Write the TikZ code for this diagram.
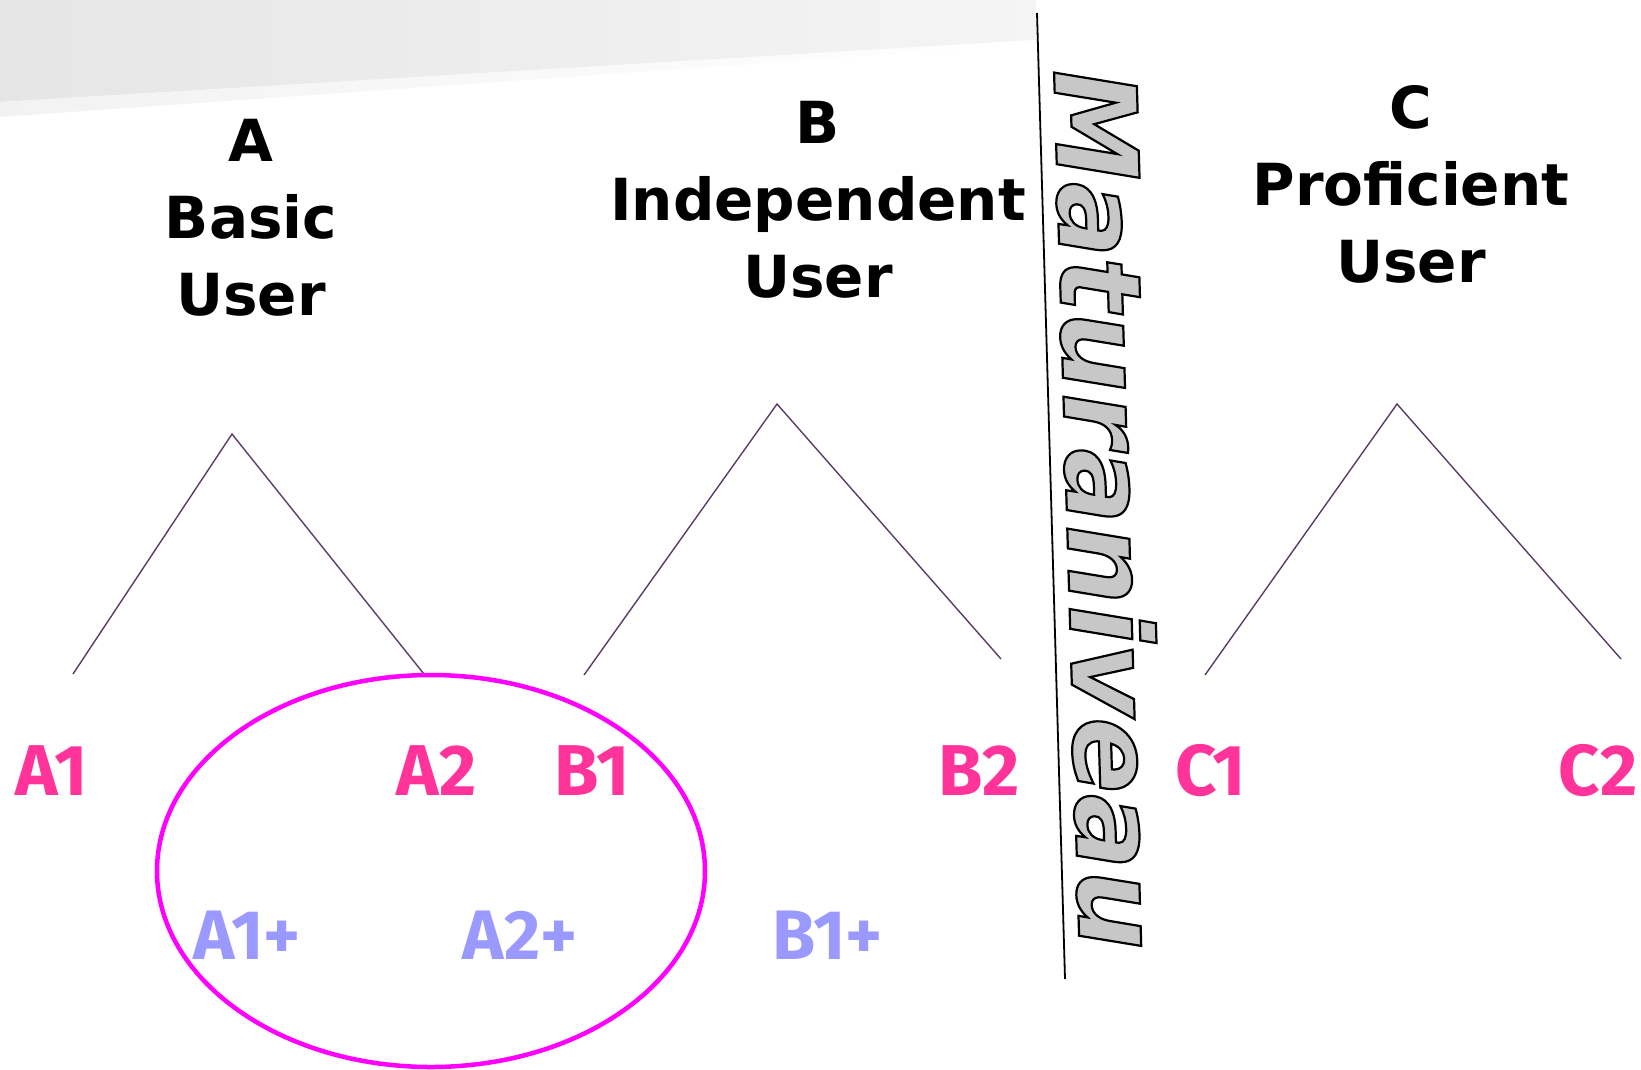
\documentclass[tikz,border=0pt]{standalone}
\usepackage{fontspec}
\setmainfont{DejaVu Sans}
\newfontfamily\headfont{DejaVu Sans}
\newfontfamily\matfont{DejaVu Sans}
\newfontfamily\lvlfont{Fira Sans}
\definecolor{pinklbl}{RGB}{255,51,153}
\definecolor{bluelbl}{RGB}{153,153,255}
\definecolor{ringcol}{RGB}{255,0,255}
\definecolor{treecol}{RGB}{90,60,105}
\tikzset{
  head/.style={align=center, font=\headfont\bfseries\fontsize{58}{77}\selectfont, inner sep=0pt},
  lvl/.style={text=pinklbl, font=\lvlfont\bfseries\fontsize{72}{72}\selectfont, inner sep=0pt},
  plus/.style={text=bluelbl, font=\lvlfont\bfseries\fontsize{70}{70}\selectfont, inner sep=0pt},
  tree/.style={draw=treecol, line width=1.4pt},
  ring/.style={draw=ringcol, line width=4.5pt},
}
\begin{document}
\begin{tikzpicture}[x=1pt,y=-1pt]
\useasboundingbox (0,0) rectangle (1641,1069);
% gray band
\shade[left color=black!10, right color=black!4] (0,0) -- (1036,0) -- (1036,40) -- (0,102) -- cycle;
\shade[left color=black!5, right color=white] (0,102) -- (1036,40) -- (1036,44) -- (0,117) -- cycle;
% headings
\node[head] (hA) at (251,218) {A\\Basic\\User};
\node[head] (hB) at (818,200) {B\\Independent\\User};
\node[head] (hC) at (1411,184) {C\\Proficient\\User};
% trees
\coordinate (aL) at (73,674); \coordinate (aT) at (232,434); \coordinate (aR) at (424,674);
\coordinate (bL) at (584,675); \coordinate (bT) at (777,404); \coordinate (bR) at (1001,659);
\coordinate (cL) at (1205,675); \coordinate (cT) at (1397,404); \coordinate (cR) at (1621,659);
\draw[tree] (aL) -- (aT) -- (aR);
\draw[tree] (bL) -- (bT) -- (bR);
\draw[tree] (cL) -- (cT) -- (cR);
% divider line
\coordinate (lt) at (1037,13); \coordinate (lb) at (1065,979);
\draw[line width=1.8pt] (lt) -- (lb);
% Maturaniveau
\node[rotate=-88.34, anchor=base west, inner sep=0pt, font=\matfont\bfseries\itshape\fontsize{113}{113}\selectfont] (mat) at (1054,70)
 {\color{black!22}\special{pdf:literal direct 2 Tr 2.2 w 0 0 0 RG}Maturaniveau\special{pdf:literal direct 0 Tr}};
% levels
\node[lvl] (A1) at (52,771) {A1};
\node[lvl] (A2) at (437,771) {A2};
\node[lvl] (B1) at (592,771) {B1};
\node[lvl] (B2) at (979,771) {B2};
\node[lvl] (C1) at (1211,771) {C1};
\node[lvl] (C2) at (1598,771) {C2};
\node[plus] (A1p) at (247,935) {A1+};
\node[plus] (A2p) at (520,935) {A2+};
\node[plus] (B1p) at (828,935) {B1+};
% ring
\draw[ring] (431,871) ellipse [x radius=274, y radius=196];
\end{tikzpicture}
\end{document}
